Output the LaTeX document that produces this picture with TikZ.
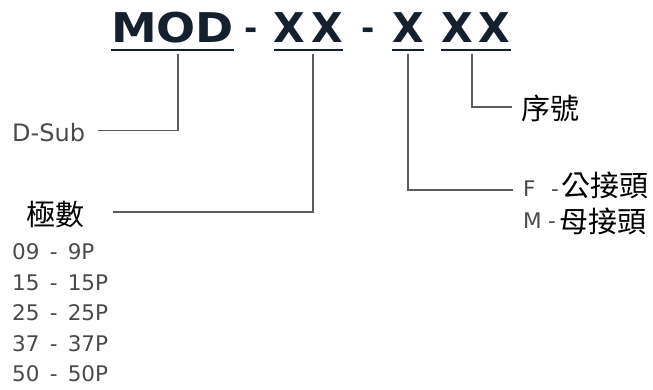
\documentclass[tikz,border=0pt]{standalone}
\usepackage{fontspec}
\usepackage{graphicx}
\usetikzlibrary{positioning}
\setmainfont{DejaVu Sans}
\newfontfamily\cjk{Noto Sans CJK TC}
\newfontfamily\lab[WordSpace=1.5]{DejaVu Sans}
\definecolor{titlecol}{HTML}{14202E}
\definecolor{linecol}{HTML}{5F5957}
\definecolor{txtcol}{HTML}{4A4A4A}

\tikzset{
	title/.style={inner sep=0pt, anchor=base, text=titlecol, font=\fontsize{41}{41}\selectfont\bfseries},
	hyph/.style={inner sep=0pt, anchor=base, text=titlecol, font=\fontsize{32}{32}\selectfont\bfseries},
	small/.style={inner sep=0pt, text=txtcol, font=\fontsize{21.5}{21.5}\lab},
	hanzi/.style={inner sep=0pt, text=black, font=\fontsize{29}{29}\selectfont\cjk},
	lead/.style={draw=linecol, line width=1.4pt},
	uline/.style={draw=titlecol, line width=1.6pt}
}

\begin{document}
\begin{tikzpicture}[x=1pt, y=-1pt]
		\useasboundingbox (0,0) rectangle (653,389);
	
		% part number
		\node [title] (mod) at (172.5,42.5) {\scalebox{1.12}[1]{MOD}};
		\node [hyph] (dasha) at (251,39) {-};
		\node [title] (pins) at (308.5,42.5) {X\kern6pt X};
		\node [hyph] (dashb) at (368,39) {-};
		\node [title] (sex) at (408,42.5) {X};
		\node [title] (serial) at (476,42.5) {X\kern6pt X};
	
		\foreach \n in {mod, pins, sex, serial}
			\draw[uline] ([yshift=-7.5pt]\n.base west) -- ([yshift=-7.5pt]\n.base east);
	
		% labels
		\node [small, font=\fontsize{24}{24}\selectfont, anchor=base west] (dsub) at (12,141) {D-Sub};
		\node [hanzi] (poles) at (55,214.5) {極數};
		\node [small, anchor=base west] (p09) at (12,259.5) {09 - 9P};
		\node [small, anchor=base west] (p15) at (12,290) {15 - 15P};
		\node [small, anchor=base west] (p25) at (12,320.5) {25 - 25P};
		\node [small, anchor=base west] (p37) at (12,351) {37 - 37P};
		\node [small, anchor=base west] (p50) at (12,381.5) {50 - 50P};
	
		\node [hanzi] (seq) at (550,108.5) {序號};
	
		\node [small, anchor=base west] (f) at (523,196.5) {F};
		\node [small, anchor=base] (fdash) at (555,196.5) {-};
		\node [hanzi] (male) at (605,185) {公接頭};
		\node [small, anchor=base west] (m) at (523,228) {M};
		\node [small, anchor=base] (mdash) at (552,228) {-};
		\node [hanzi] (female) at (602.5,221) {母接頭};
	
		% leaders
		\draw[lead] ([xshift=5.5pt, yshift=-11pt]mod.base) |- ([xshift=13pt, yshift=1.5pt]dsub.east);
		\draw[lead] ([xshift=4.5pt, yshift=-11pt]pins.base) |- ([xshift=29pt, yshift=2.5pt]poles.east);
		\draw[lead] ([yshift=-11pt]sex.base) |- ([xshift=-10pt, yshift=-1.5pt]f.west);
		\draw[lead] ([xshift=-4pt, yshift=-11pt]serial.base) |- ([xshift=-9pt, yshift=1.5pt]seq.west);
	\end{tikzpicture}
\end{document}
